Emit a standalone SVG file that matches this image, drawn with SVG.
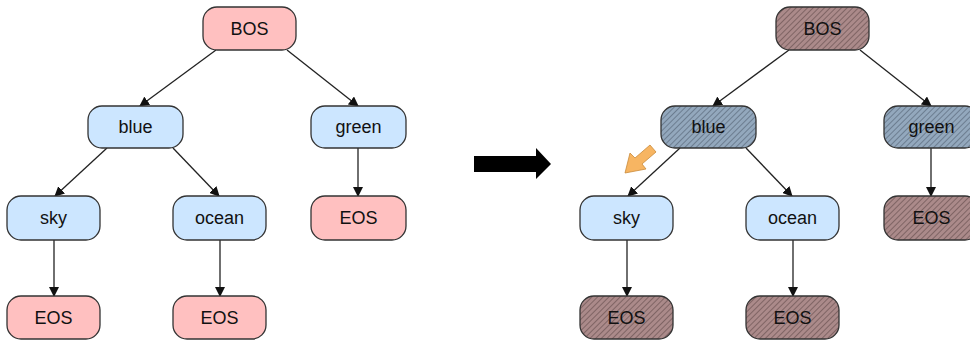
<svg xmlns="http://www.w3.org/2000/svg" width="970" height="343" viewBox="0 0 970 343">
<style>
.n rect{stroke:#333;stroke-width:1.3}
.pink{fill:#ffc0c0}
.blue{fill:#cce6ff}
.hb{fill:url(#hatchBrown)}
.hg{fill:url(#hatchGrey)}
text{font-family:"Liberation Sans",Arial,sans-serif;font-size:18px;fill:#111;text-anchor:middle;dominant-baseline:central}
.c line{stroke:#222;stroke-width:1.3;marker-end:url(#ah)}
</style>
<defs>
<marker id="ah" markerWidth="10" markerHeight="10" refX="9" refY="5" orient="auto" markerUnits="userSpaceOnUse"><path d="M0,0 L10,5 L0,10 Z" fill="#111"/></marker>
<pattern id="hatchBrown" width="4" height="4" patternUnits="userSpaceOnUse" patternTransform="rotate(45)"><rect width="4" height="4" fill="#ab8a8a"/><line x1="0" y1="0" x2="0" y2="4" stroke="#4a3535" stroke-width="0.9"/></pattern>
<pattern id="hatchGrey" width="4" height="4" patternUnits="userSpaceOnUse" patternTransform="rotate(45)"><rect width="4" height="4" fill="#93a8bd"/><line x1="0" y1="0" x2="0" y2="4" stroke="#3c4a58" stroke-width="0.9"/></pattern>
</defs>
<rect width="970" height="343" fill="#fff"/>
<g class="c" id="connectors">
<line x1="216" y1="50" x2="140" y2="106"/>
<line x1="287" y1="50" x2="358" y2="106"/>
<line x1="107" y1="148" x2="55" y2="196"/>
<line x1="173" y1="148" x2="219" y2="196"/>
<line x1="358" y1="148" x2="358" y2="196"/>
<line x1="54" y1="240" x2="54" y2="296"/>
<line x1="220" y1="240" x2="220" y2="296"/>
<line x1="789" y1="50" x2="713" y2="106"/>
<line x1="860" y1="50" x2="931" y2="106"/>
<line x1="680" y1="148" x2="628" y2="196"/>
<line x1="746" y1="148" x2="792" y2="196"/>
<line x1="931" y1="148" x2="931" y2="196"/>
<line x1="627" y1="240" x2="627" y2="296"/>
<line x1="793" y1="240" x2="793" y2="296"/>
</g>
<g class="n" id="bos-l"><rect class="pink" x="203" y="7" width="93" height="43" rx="14"/><text x="249.5" y="28.5">BOS</text></g>
<g class="n" id="blue-l"><rect class="blue" x="88" y="106" width="95" height="42" rx="14"/><text x="135.5" y="127">blue</text></g>
<g class="n" id="green-l"><rect class="blue" x="311" y="106" width="95" height="42" rx="14"/><text x="358.5" y="127">green</text></g>
<g class="n" id="sky-l"><rect class="blue" x="7" y="196" width="93" height="44" rx="14"/><text x="53.5" y="218">sky</text></g>
<g class="n" id="ocean-l"><rect class="blue" x="173" y="196" width="93" height="44" rx="14"/><text x="219.5" y="218">ocean</text></g>
<g class="n" id="eos-gl"><rect class="pink" x="311" y="196" width="95" height="44" rx="14"/><text x="358.5" y="218">EOS</text></g>
<g class="n" id="eos-sl"><rect class="pink" x="7" y="296" width="93" height="43" rx="14"/><text x="53.5" y="317.5">EOS</text></g>
<g class="n" id="eos-ol"><rect class="pink" x="173" y="296" width="93" height="43" rx="14"/><text x="219.5" y="317.5">EOS</text></g>
<g id="big-arrow"><polygon points="474,156 536,156 536,148 551,164 536,179 536,172 474,172" fill="#000"/></g>
<g class="n" id="bos-r"><rect class="hb" x="776" y="7" width="93" height="43" rx="14"/><text x="822.5" y="28.5">BOS</text></g>
<g class="n" id="blue-r"><rect class="hg" x="661" y="106" width="95" height="42" rx="14"/><text x="708.5" y="127">blue</text></g>
<g class="n" id="green-r"><rect class="hg" x="884" y="106" width="95" height="42" rx="14"/><text x="931.5" y="127">green</text></g>
<g class="n" id="sky-r"><rect class="blue" x="580" y="196" width="93" height="44" rx="14"/><text x="626.5" y="218">sky</text></g>
<g class="n" id="ocean-r"><rect class="blue" x="746" y="196" width="93" height="44" rx="14"/><text x="792.5" y="218">ocean</text></g>
<g class="n" id="eos-gr"><rect class="hb" x="884" y="196" width="95" height="44" rx="14"/><text x="931.5" y="218">EOS</text></g>
<g class="n" id="eos-sr"><rect class="hb" x="580" y="296" width="93" height="43" rx="14"/><text x="626.5" y="317.5">EOS</text></g>
<g class="n" id="eos-or"><rect class="hb" x="746" y="296" width="93" height="43" rx="14"/><text x="792.5" y="317.5">EOS</text></g>
<g id="orange-arrow"><polygon points="650,145 656,152 642,164 646,169 625,173 630,153 635,158" fill="#f7b562" stroke="#c98a3a" stroke-width="0.8"/></g>
</svg>
